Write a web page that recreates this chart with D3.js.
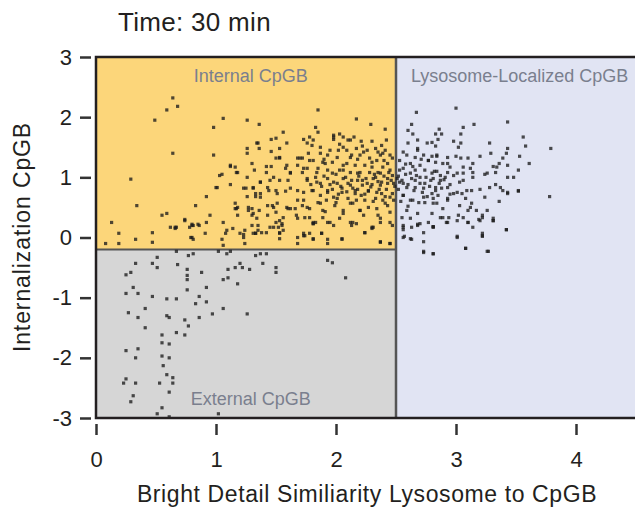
<!DOCTYPE html>
<html>
<head>
<meta charset="utf-8">
<script src="https://cdn.jsdelivr.net/npm/d3@7"></script>
<style>
  body { margin: 0; background: #fff; }
  svg text { font-family: Arial, "Liberation Sans", sans-serif; }
</style>
</head>
<body>
<div id="chart"></div>
<script>
// gate thresholds
var gateX = 2.5;
var gateY = -0.2;

var xTicks = [0, 1, 2, 3, 4];
var yTicks = [-3, -2, -1, 0, 1, 2, 3];

// points, [similarity, internalization]
var internalPts = [
  [0.64,2.32],[0.59,2.12],[0.68,2.18],[0.49,1.95],[1.06,1.98],[0.98,1.83],[1.26,1.95],[1.36,1.88],
  [0.64,1.40],[0.98,1.37],[0.29,0.97],[1.01,0.83],[0.92,0.68],[0.34,0.53],[0.83,0.53],[0.55,0.37],
  [0.59,0.40],[0.13,0.25],[0.19,0.07],[0.47,0.08],[1.06,0.25],[0.85,0.22],[0.80,0.22],[0.92,0.25],
  [1.16,0.48],[1.12,1.18],[1.17,1.08],[1.30,1.23],[1.37,0.92],[1.42,1.08],[1.48,1.00],[1.34,1.57],
  [1.46,1.63],[1.56,1.75],[1.53,1.33],[1.59,1.57],[1.26,1.48],[1.23,0.82],[1.31,0.83],[1.33,0.73],
  [1.43,0.83],[1.51,0.73],[1.62,1.07],[1.70,1.32],[1.78,1.67],[1.85,2.12],[1.18,0.50],[1.27,0.50],
  [1.31,0.40],[1.37,0.67],[1.47,0.53],[1.53,0.28],[1.62,0.48],[1.67,0.37],[1.76,0.50],[1.81,0.25],
  [1.48,0.17],[1.56,0.12],[1.09,0.12],[1.24,0.12],[1.31,0.07],[0.91,0.07],[0.66,0.15],[0.74,0.28],
  [0.19,-0.10],[0.08,-0.10],[0.33,-0.03],[0.47,-0.08],[0.62,0.17],[0.67,0.17],[0.78,0.17],[0.81,0.20],
  [0.80,0.00],[1.08,0.07],[1.14,0.15],[1.23,0.05],[1.24,-0.10],[1.33,0.07],[1.35,0.20],[1.38,0.08],
  [1.53,0.07],[1.55,0.23],[1.68,0.00],[1.73,0.03],[1.78,0.07],[1.81,0.23],[1.68,-0.10],[1.06,-0.13],
  [2.13,0.20],[2.17,0.23],[2.24,0.08],[2.31,0.17],[2.37,0.25],[2.37,-0.07],[2.45,-0.10],[2.05,-0.03],
  [1.93,-0.03],[1.93,-0.10],[1.88,0.07],[1.81,0.23],[1.93,0.25],[1.81,-0.03],[1.73,0.07],
  [1.50,1.65],[1.35,1.57],[1.36,1.48],[1.46,1.43],[1.53,1.48],[1.26,1.40],[1.32,1.12],[1.42,1.18],
  [1.46,1.18],[1.50,1.32],[1.59,1.20],[1.68,1.32],[1.68,1.20],[1.62,1.08],[1.58,1.15],[1.05,1.05],
  [2.17,1.97],[2.29,1.88],[2.41,1.80],[1.83,1.83],[1.85,1.75],[1.98,1.70],[2.03,1.72],[1.98,1.63],
  [2.10,1.62],[2.15,1.67],[2.21,1.60],[1.73,1.63],[1.81,1.62],[1.80,1.53],[2.06,1.50],[2.17,1.48],
  [2.09,1.45],[2.26,1.45],[2.38,1.53],[2.41,1.45],[2.42,1.62],[2.45,1.37],[2.35,1.42],[1.77,1.40],
  [1.87,1.40],[1.93,1.37],[2.01,1.33],[2.12,1.33],[2.20,1.37],[2.28,1.32],[2.34,1.28],[2.37,1.37],
  [2.47,1.32],[1.72,1.32],[1.81,1.28],[1.89,1.25],[1.97,1.25],[2.06,1.20],[2.16,1.20],[2.24,1.20],
  [2.30,1.17],[2.39,1.17],[1.76,1.15],[1.85,1.15],[1.93,1.12],[2.03,1.12],[2.12,1.08],[2.20,1.08],
  [2.35,1.08],[2.45,1.12],[1.72,1.08],[1.53,1.32],[1.53,0.95],[1.12,1.20],[1.16,1.17],[1.18,1.08],
  [1.26,1.00],[1.03,1.03],[0.66,0.17],
  [1.00,0.83],[1.12,0.88],[0.74,0.30],[0.80,0.20],[0.86,0.20],[0.95,0.37],[0.79,0.00],[0.81,-0.03],
  [1.05,-0.03],[1.20,0.07],[1.23,0.00],[1.33,0.07],[1.35,0.12],[1.42,0.08],[1.45,0.17],[1.53,0.08],
  [1.53,-0.02],[1.30,0.20],[1.18,0.37],[1.30,0.37],[1.34,0.32],[1.36,0.45],[1.43,0.37],[1.50,0.42],
  [1.50,0.25],[1.52,0.17],[1.55,0.20],[1.56,0.33],[1.59,0.50],[1.60,0.48],[1.68,0.32],[1.66,0.48],
  [1.48,0.50],[1.43,0.53],[1.30,0.48],[1.27,0.45],[1.17,0.48],[1.33,0.68],[1.26,0.68],[1.25,0.82],
  [1.31,0.82],[1.37,0.73],[1.37,0.92],[1.45,0.95],[1.50,0.78],[1.44,0.78],[1.51,0.57],[1.58,0.77],
  [1.62,0.82],[1.60,0.95],[1.68,0.78],[1.68,0.62],[1.16,0.57],
  [1.76,0.98],[1.84,0.92],[1.93,0.98],[2.01,0.90],[2.06,0.98],[2.12,0.87],[2.18,0.95],[2.26,0.90],
  [2.31,0.98],[2.37,0.87],[2.43,0.98],[2.48,0.90],[1.73,0.75],[1.80,0.78],[1.87,0.70],[1.93,0.78],
  [1.98,0.67],[2.05,0.75],[2.10,0.65],[2.16,0.78],[2.21,0.70],[2.27,0.77],[2.33,0.65],[2.38,0.73],
  [2.45,0.67],[1.72,0.53],[1.78,0.48],[1.87,0.57],[1.91,0.43],[1.99,0.53],[2.06,0.45],[2.14,0.57],
  [2.20,0.45],[2.27,0.50],[2.34,0.48],[2.41,0.57],[2.45,0.42],[1.74,0.33],[1.83,0.25],[1.89,0.33],
  [1.98,0.20],[2.03,0.32],[2.12,0.25],[2.23,0.37],[2.30,0.15],[2.37,0.32],[2.45,0.25],[1.74,0.03],
  [1.81,-0.02],[1.88,0.07],[2.05,-0.02],[2.24,0.08],[2.37,-0.08],[2.45,-0.10],
  [1.98,1.67],[2.06,1.67],[2.12,1.62],[1.76,1.57],[1.87,1.50],[2.02,1.45],[2.13,1.37],[2.23,1.42],
  [2.33,1.48],[2.39,1.40],[1.78,1.28],[1.91,1.23],[2.09,1.23],[2.30,1.25],[2.43,1.23],[1.73,1.15],
  [1.84,1.08],[1.97,1.07],[2.06,1.12],[2.18,1.07],[2.28,1.08],[2.37,1.07],[2.47,1.03],[1.76,0.95],
  [1.87,0.90],[1.98,0.92],[2.10,0.90],[2.22,0.95],[2.33,1.00],[2.38,0.92],[2.43,0.90],[1.81,0.78],
  [1.93,0.75],[2.05,0.82],[2.16,0.73],[2.27,0.78],[2.34,0.75],[2.47,0.73],[1.73,0.62],[1.85,0.58],
  [2.01,0.65],[2.12,0.57],[2.24,0.62],[2.43,0.53],[1.89,0.45],[2.06,0.40],[2.20,0.45],[2.35,0.37],
  [1.78,0.33],[1.95,0.25],[2.14,0.25],[2.30,0.17],[2.47,0.20],
  [1.90,1.02],[1.95,0.88],[2.00,1.05],[2.04,0.85],[2.08,1.00],[2.14,0.82],[2.19,1.02],[2.22,0.87],
  [2.25,0.98],[2.29,0.84],[2.32,1.05],[2.35,0.93],[2.40,1.02],[2.42,0.80],[2.46,0.95],[2.49,0.85],
  [1.97,0.80],[2.02,0.72],[2.09,0.76],[2.13,0.95],[2.18,0.80],[2.24,0.72],[2.30,0.88],[2.36,0.80],
  [2.41,0.68],[2.44,1.08],[1.88,0.85],[1.83,1.00],[1.79,0.88],[1.92,0.62],[2.00,0.58],[2.17,0.62],
  [2.31,0.60],[2.39,0.62],[2.48,0.62],[1.95,1.45],[2.03,1.55],[2.22,1.52],[2.30,1.60],[2.18,1.30],
  [1.90,1.30],[2.40,1.28]
];

var lysosomePts = [
  [2.56,0.20],[2.56,0.13],[2.63,0.17],[2.68,0.22],[2.77,0.25],[2.81,0.18],[2.93,0.25],[3.10,0.25],
  [3.20,0.28],[3.31,0.28],[3.42,0.13],[2.73,0.08],[2.57,0.02],[2.63,-0.03],[2.73,-0.07],[3.01,0.02],
  [3.22,0.03],[2.73,-0.23],[2.81,-0.27],[3.08,-0.18],[3.27,-0.23],
  [2.67,2.08],[2.63,1.88],[2.60,1.78],[2.64,1.72],[2.68,1.62],[2.60,1.57],[2.76,1.57],[2.68,1.48],
  [2.56,1.42],[2.66,1.33],[2.73,1.37],[2.53,1.28],[2.62,1.23],[2.70,1.20],[2.77,1.28],[2.56,1.15],
  [2.66,1.12],[2.74,1.12],
  [3.00,2.15],[3.15,1.88],[3.43,1.92],[3.06,1.83],[2.86,1.80],[2.83,1.72],[2.88,1.72],[3.04,1.72],
  [3.56,1.67],[2.85,1.63],[2.98,1.60],[2.80,1.58],[3.04,1.57],[3.28,1.57],[2.83,1.52],[3.02,1.50],
  [3.58,1.52],[3.79,1.48],[3.43,1.48],[3.29,1.40],[3.42,1.40],[3.53,1.35],[3.20,1.35],[2.80,1.35],
  [2.84,1.35],[2.93,1.33],[3.00,1.35],[3.04,1.32],[3.10,1.32],[3.39,1.32],[2.83,1.25],[2.89,1.23],
  [3.14,1.23],[3.36,1.23],[3.43,1.20],[3.61,1.23],[2.95,1.17],[3.06,1.17],[3.31,1.18],[3.12,1.15],
  [3.52,1.12],[2.84,1.10],[2.93,1.08],[3.01,1.07],[3.24,1.05],[3.33,1.08],[3.14,1.08],
  [2.53,0.92],[2.59,0.83],[2.66,0.95],[2.73,0.82],[2.56,0.70],[2.64,0.62],[2.74,0.58],[2.55,0.33],
  [2.62,0.32],[2.70,0.23],[2.56,0.17],[2.62,-0.02],[2.73,-0.25],[2.56,0.00],
  [2.81,0.98],[2.87,0.95],[2.91,1.00],[2.83,0.83],[2.88,0.82],[2.80,0.73],[2.85,0.70],[2.93,0.65],
  [2.95,0.72],[2.98,0.73],[3.05,0.73],[3.03,0.92],[3.06,0.95],[3.13,0.78],[3.20,0.80],[3.28,0.83],
  [3.33,0.88],[3.39,0.78],[3.43,0.73],[3.52,0.77],[3.14,1.00],[3.48,1.00],[3.24,0.67],[3.36,0.60],
  [3.78,0.68],[3.08,0.65],[3.13,0.57],[3.10,0.45],[3.17,0.45],[3.26,0.45],[3.22,0.37],[3.19,0.30],
  [3.31,0.32],[2.89,0.48],[2.87,0.33],[2.94,0.33],[3.02,0.37],[3.06,0.33],[2.92,0.25],[3.10,0.25],
  [2.81,0.18],[3.01,0.00],[3.22,0.02],[3.42,0.13],[3.08,-0.18],[3.26,-0.23],[2.81,-0.27],[2.81,0.65],
  [2.84,0.57],
  [2.51,0.98],[2.59,1.37],[2.68,1.45],[2.77,1.28],[2.84,1.37],[2.93,1.23],[2.53,1.12],[2.62,1.07],
  [2.70,1.00],[2.80,1.07],[2.87,1.03],[2.98,1.03],[3.06,1.07],[2.56,0.90],[2.66,0.83],[2.74,0.90],
  [2.83,0.78],[2.93,0.83],[3.01,0.75],[3.09,0.78],[2.56,0.70],[2.62,0.62],[2.73,0.67],[2.81,0.57],
  [2.93,0.62],[3.03,0.53],[2.59,0.45],[2.68,0.40],[2.80,0.40],[2.89,0.33],[3.01,0.28],[3.12,0.50],
  [3.22,0.33],[3.31,0.28],[2.68,0.20],[2.81,0.17],[3.14,0.17],[3.22,0.07],[3.37,0.83],[3.43,0.75],
  [3.52,0.78],[3.26,1.07],[3.34,1.17],[3.43,1.00],
  [2.52,1.02],[2.55,0.95],[2.58,1.05],[2.60,0.88],[2.63,0.98],[2.65,0.78],[2.67,1.03],[2.70,0.90],
  [2.72,0.75],[2.75,1.00],[2.78,0.85],[2.79,0.95],[2.82,1.10],[2.86,0.90],[2.90,0.96],[2.95,0.88],
  [2.52,0.80],[2.54,0.60],[2.60,0.52],[2.69,0.58],[2.76,0.68],[2.64,1.18],[2.71,1.30],[2.58,1.22]
];

var externalPts = [
  [0.67,-0.23],[0.77,-0.30],[0.81,-0.27],[1.02,-0.23],[1.09,-0.27],[1.12,-0.23],[1.33,-0.30],[1.37,-0.27],
  [1.42,-0.27],[0.51,-0.33],[0.33,-0.43],[0.47,-0.43],[0.51,-0.50],[0.68,-0.45],[0.25,-0.62],[0.29,-0.58],
  [0.76,-0.53],[0.76,-0.63],[0.76,-0.70],[0.88,-0.58],[1.10,-0.53],[1.10,-0.67],[1.06,-0.70],[1.16,-0.50],
  [1.20,-0.43],[1.22,-0.50],[1.28,-0.53],[1.39,-0.43],[1.50,-0.50],[1.50,-0.58],[1.18,-0.77],[0.31,-0.83],
  [0.76,-0.87],[0.92,-0.83],[0.25,-0.93],[0.35,-0.93],[0.47,-0.98],[0.59,-1.02],[0.67,-1.02],[0.86,-0.98],
  [0.83,-1.10],[0.92,-1.07],[0.41,-1.18],[1.06,-1.18],[0.27,-1.25],[0.97,-1.27],[1.26,-1.27],[0.35,-1.33],
  [0.59,-1.30],[0.61,-1.33],[0.86,-1.33],[0.74,-1.37],[0.77,-1.47],[0.41,-1.50],[0.67,-1.58],[0.55,-1.62],
  [0.74,-1.62],[0.55,-1.75],[0.61,-1.77],[0.25,-1.88],[0.35,-1.85],[0.33,-2.00],[0.55,-1.97],[0.61,-2.00],
  [0.56,-2.13],[0.59,-2.28],[0.64,-2.33],[0.64,-2.42],[0.53,-2.42],[0.23,-2.42],[0.25,-2.35],[0.33,-2.42],
  [0.61,-2.57],[0.31,-2.63],[0.29,-2.73],[0.55,-2.83],[0.51,-2.93],[0.61,-2.98],[1.02,-2.93],
  [1.93,-0.38],[1.97,-0.42],[2.08,-0.67]
];

var width = 635, height = 507;
var plotLeft = 96, plotRight = 636, plotTop = 57, plotBottom = 418;

var svg = d3.select('#chart').append('svg')
  .attr('width', width)
  .attr('height', height);

var x = d3.scaleLinear().domain([0, 4.5]).range([plotLeft, plotRight]);
var y = d3.scaleLinear().domain([-3, 3]).range([plotBottom, plotTop]);

// gate regions
var regions = [
  {x0: 0, x1: gateX, y0: gateY, y1: 3, fill: '#fcd67a'},
  {x0: 0, x1: gateX, y0: -3, y1: gateY, fill: '#d6d6d6'},
  {x0: gateX, x1: 4.5, y0: -3, y1: 3, fill: '#e1e4f3'}
];
svg.append('g').selectAll('rect')
  .data(regions)
  .enter()
  .append('rect')
  .attr('x', d => x(d.x0))
  .attr('y', d => y(d.y1))
  .attr('width', d => x(d.x1) - x(d.x0))
  .attr('height', d => y(d.y0) - y(d.y1))
  .attr('fill', d => d.fill);

// gate dividers
svg.append('line')
  .attr('x1', x(0)).attr('x2', x(gateX))
  .attr('y1', y(gateY)).attr('y2', y(gateY))
  .attr('stroke', '#555').attr('stroke-width', 2);
svg.append('line')
  .attr('x1', x(gateX)).attr('x2', x(gateX))
  .attr('y1', y(3)).attr('y2', y(-3))
  .attr('stroke', '#555').attr('stroke-width', 2.5);

// scatter points
var allPts = internalPts.concat(lysosomePts, externalPts);
svg.append('g').selectAll('rect')
  .data(allPts)
  .enter()
  .append('rect')
  .attr('x', d => x(d[0]) - 1.6)
  .attr('y', d => y(d[1]) - 1.6)
  .attr('width', 3.2)
  .attr('height', 3.2)
  .attr('fill', '#1c1c1c')
  .attr('opacity', 0.78);

// frame: top, left, bottom
svg.append('path')
  .attr('d', `M${plotRight},${plotTop}H${plotLeft}V${plotBottom}H${plotRight}`)
  .attr('fill', 'none')
  .attr('stroke', '#231f20')
  .attr('stroke-width', 2.5);

// gate labels
var gateLabels = [
  {text: 'Internal CpGB', x: 1.29, y: 2.59},
  {text: 'Lysosome-Localized CpGB', x: 3.53, y: 2.59},
  {text: 'External CpGB', x: 1.29, y: -2.78}
];
svg.append('g').selectAll('text')
  .data(gateLabels)
  .enter()
  .append('text')
  .attr('x', d => x(d.x))
  .attr('y', d => y(d.y))
  .attr('text-anchor', 'middle')
  .attr('font-size', 18)
  .attr('fill', '#7a7f8e')
  .text(d => d.text);

// axes
var yAxis = svg.append('g')
  .attr('transform', `translate(${plotLeft - 5},0)`)
  .call(d3.axisLeft(y).tickValues(yTicks).tickSize(11).tickPadding(8).tickFormat(d3.format('d')));
var xAxis = svg.append('g')
  .attr('transform', `translate(0,${plotBottom + 6})`)
  .call(d3.axisBottom(x).tickValues(xTicks).tickSize(11).tickPadding(16).tickFormat(d3.format('d')));

[xAxis, yAxis].forEach(function(ax) {
  ax.select('.domain').remove();
  ax.selectAll('.tick line').attr('stroke', '#333').attr('stroke-width', 2.5);
  ax.selectAll('.tick text')
    .attr('font-size', 22)
    .attr('fill', '#231f20')
    .style('font-family', 'Arial, "Liberation Sans", sans-serif');
});
yAxis.selectAll('.tick text').text(d => d < 0 ? '-' + Math.abs(d) : d);

// titles
svg.append('text')
  .attr('x', 118)
  .attr('y', 31)
  .attr('font-size', 26)
  .attr('letter-spacing', 0.3)
  .attr('fill', '#231f20')
  .text('Time: 30 min');

svg.append('text')
  .attr('x', 367)
  .attr('y', 502)
  .attr('text-anchor', 'middle')
  .attr('font-size', 23)
  .attr('letter-spacing', 0.6)
  .attr('fill', '#231f20')
  .text('Bright Detail Similiarity Lysosome to CpGB');

svg.append('text')
  .attr('transform', 'translate(30,237) rotate(-90)')
  .attr('text-anchor', 'middle')
  .attr('font-size', 23)
  .attr('letter-spacing', 0.9)
  .attr('fill', '#231f20')
  .text('Internalization CpGB');
</script>
</body>
</html>
